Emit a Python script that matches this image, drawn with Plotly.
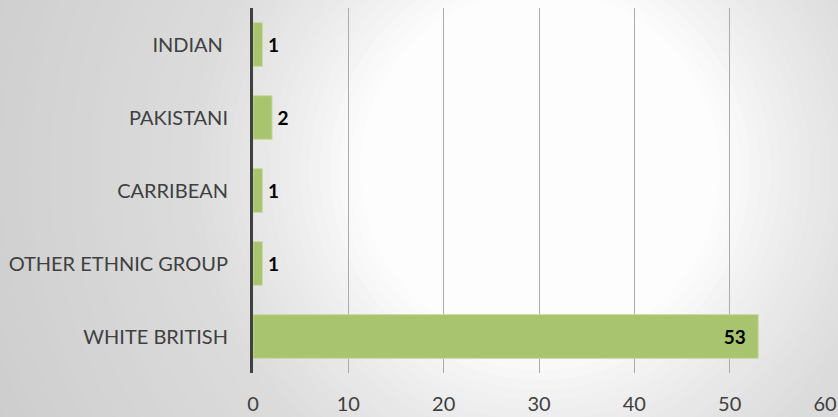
import plotly.graph_objects as go
import numpy as np

categories = ["INDIAN\u00a0", "PAKISTANI", "CARRIBEAN", "OTHER ETHNIC GROUP", "WHITE BRITISH"]
values = [1, 2, 1, 1, 53]
label_pos = ["outside", "outside", "outside", "outside", "inside"]
x_ticks = [0, 10, 20, 30, 40, 50, 60]

W, H = 838, 417
ML, MR, MT, MB = 253, 13, 8, 44
PW, PH = W - ML - MR, H - MT - MB

def px2paper_x(X):
    return (X - ML) / PW

def px2paper_y(Y):
    return (H - MB - Y) / PH

# radial background gradient (white centre, grey edges)
cx, cy = 540, 170
radii = list(range(640, 170, -10))
prof_r = [170, 260, 350, 620, 700]
prof_c = [255, 236, 220, 204, 200]
shapes = []
for r in radii:
    c = int(round(np.interp(r, prof_r, prof_c)))
    col = f"rgb({c},{c},{c})"
    shapes.append(dict(type="circle", xref="paper", yref="paper",
                       x0=px2paper_x(cx - r), x1=px2paper_x(cx + r),
                       y0=px2paper_y(cy + r), y1=px2paper_y(cy - r),
                       fillcolor=col, line=dict(width=0), layer="below"))

labels = [("\u2009" + str(v)) if p == "outside" else (str(v) + "\u2002")
          for v, p in zip(values, label_pos)]

fig = go.Figure(go.Bar(
    x=values, y=categories, orientation="h",
    marker=dict(color="#A9C46F", line=dict(color="#C9DCA6", width=1)),
    text=labels, textposition=label_pos,
    insidetextanchor="end",
    textfont=dict(family="Lato", size=19, color="black", weight="bold"),
    cliponaxis=False,
))

fig.update_layout(
    width=W, height=H,
    margin=dict(l=ML, r=MR, t=MT, b=MB, autoexpand=False),
    paper_bgcolor="rgb(200,200,200)",
    plot_bgcolor="rgba(0,0,0,0)",
    bargap=0.4,
    shapes=shapes,
    showlegend=False,
    font=dict(family="Lato", size=20, color="#404040"),
)
fig.update_xaxes(range=[0, 60], tickvals=x_ticks, showgrid=True,
                 gridcolor="#ababab", gridwidth=1, zeroline=False,
                 showline=False, ticks="", ticklabelstandoff=17,
                 automargin=False,
                 tickfont=dict(size=20, color="#404040"))
fig.update_yaxes(categoryorder="array", categoryarray=categories,
                 autorange="reversed", showline=True, linecolor="#404040",
                 linewidth=3, showgrid=False, ticks="", ticklabelstandoff=18,
                 automargin=False,
                 tickfont=dict(size=20, color="#404040"))

fig.write_html("out.html")
